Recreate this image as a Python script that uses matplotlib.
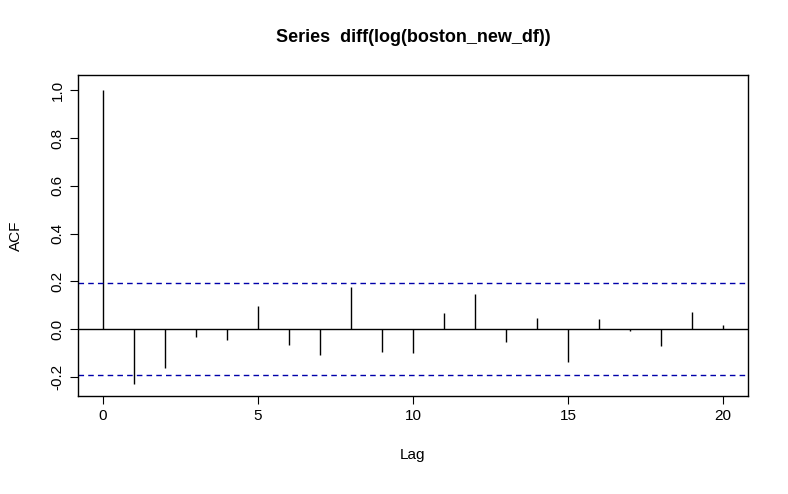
import numpy as np
import matplotlib
matplotlib.use("Agg")
import matplotlib.pyplot as plt

plt.rcParams['font.family'] = ['Liberation Sans', 'DejaVu Sans']

lags = list(range(21))
acf = [1.0, -0.23, -0.163, -0.033, -0.046, 0.096, -0.067, -0.109, 0.176, -0.096,
       -0.10, 0.067, 0.146, -0.054, 0.046, -0.138, 0.042, -0.008, -0.071, 0.071, 0.017]
ci = 0.192

fig = plt.figure(figsize=(7.88, 4.94), dpi=100)
ax = fig.add_axes([0.099, 0.198, 0.85, 0.65])
ax.vlines(lags, 0, acf, color="black", linewidth=1)
ax.axhline(0, color="black", linewidth=1)
ax.axhline(ci, color="#0000aa", linestyle=(0, (4, 3)), linewidth=1)
ax.axhline(-ci, color="#0000aa", linestyle=(0, (4, 3)), linewidth=1)
ax.set_xlim(-0.8, 20.8)
ax.set_ylim(-0.28, 1.063)
ax.set_xticks([0, 5, 10, 15, 20])
ax.set_yticks([-0.2, 0.0, 0.2, 0.4, 0.6, 0.8, 1.0])
ax.set_yticklabels(["-0.2", "0.0", "0.2", "0.4", "0.6", "0.8", "1.0"], rotation=90, va="center")
ax.tick_params(labelsize=11, direction="out", length=6)
ax.set_xlabel("Lag", fontsize=11, labelpad=18)
ax.set_ylabel("ACF", fontsize=11, labelpad=20)
ax.set_title("Series  diff(log(boston_new_df))", fontsize=13, fontweight="bold", pad=24)
for s in ax.spines.values():
    s.set_linewidth(1)
plt.savefig("out.png", dpi=100)
